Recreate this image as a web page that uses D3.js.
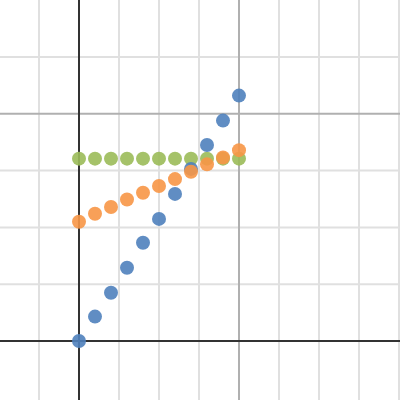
<!DOCTYPE html>
<html>
<head>
<meta charset="utf-8">
<script src="https://cdn.jsdelivr.net/npm/d3@7"></script>
<style>
html,body{margin:0;padding:0;background:#fff;}
svg{display:block;}
</style>
</head>
<body>
<div id="chart"></div>
<script>
// Data (x in grid units, y in grid units)
const xValues = [0, 0.4, 0.8, 1.2, 1.6, 2.0, 2.4, 2.8, 3.2, 3.6, 4.0];
const blueValues = [0, 0.43, 0.85, 1.29, 1.73, 2.15, 2.59, 3.03, 3.45, 3.88, 4.32];
const orangeValues = [2.10, 2.24, 2.36, 2.49, 2.61, 2.73, 2.85, 2.98, 3.11, 3.23, 3.36];
const greenValues = [3.21, 3.21, 3.21, 3.21, 3.21, 3.21, 3.21, 3.21, 3.21, 3.21, 3.21];
const gridX = [-1, 1, 2, 3, 5, 6, 7, 8];
const majorX = [4];
const gridY = [1, 2, 3, 5];
const majorY = [4];

const W = 400, H = 400;
const x = d3.scaleLinear().domain([-79/40, 321/40]).range([0, W]);
const y = d3.scaleLinear().domain([-59/56.8, 341/56.8]).range([H, 0]);

const svg = d3.select("#chart").append("svg").attr("width", W).attr("height", H);

const g = svg.append("g");
// minor grid
g.selectAll("line.gx").data(gridX).join("line").attr("class","gx")
  .attr("x1", d => x(d)).attr("x2", d => x(d)).attr("y1", 0).attr("y2", H)
  .attr("stroke", "#e0e0e0").attr("stroke-width", 2);
g.selectAll("line.gy").data(gridY).join("line").attr("class","gy")
  .attr("y1", d => y(d)).attr("y2", d => y(d)).attr("x1", 0).attr("x2", W)
  .attr("stroke", "#e0e0e0").attr("stroke-width", 2);
// major grid
g.selectAll("line.mx").data(majorX).join("line").attr("class","mx")
  .attr("x1", d => x(d)).attr("x2", d => x(d)).attr("y1", 0).attr("y2", H)
  .attr("stroke", "#b0b0b0").attr("stroke-width", 2);
g.selectAll("line.my").data(majorY).join("line").attr("class","my")
  .attr("y1", d => y(d)).attr("y2", d => y(d)).attr("x1", 0).attr("x2", W)
  .attr("stroke", "#b0b0b0").attr("stroke-width", 2);
// axes
g.append("line").attr("x1", x(0)).attr("x2", x(0)).attr("y1", 0).attr("y2", H)
  .attr("stroke", "#333").attr("stroke-width", 2);
g.append("line").attr("y1", y(0)).attr("y2", y(0)).attr("x1", 0).attr("x2", W)
  .attr("stroke", "#333").attr("stroke-width", 2);

const series = [
  {vals: greenValues, color: "#9bbb59"},
  {vals: blueValues, color: "#4f81bd"},
  {vals: orangeValues, color: "#f79646"}
];
series.forEach(s => {
  svg.append("g").selectAll("circle").data(xValues.map((xv, i) => [xv, s.vals[i]])).join("circle")
    .attr("cx", d => x(d[0])).attr("cy", d => y(d[1])).attr("r", 7)
    .attr("fill", s.color).attr("fill-opacity", 0.9);
});
</script>
</body>
</html>
